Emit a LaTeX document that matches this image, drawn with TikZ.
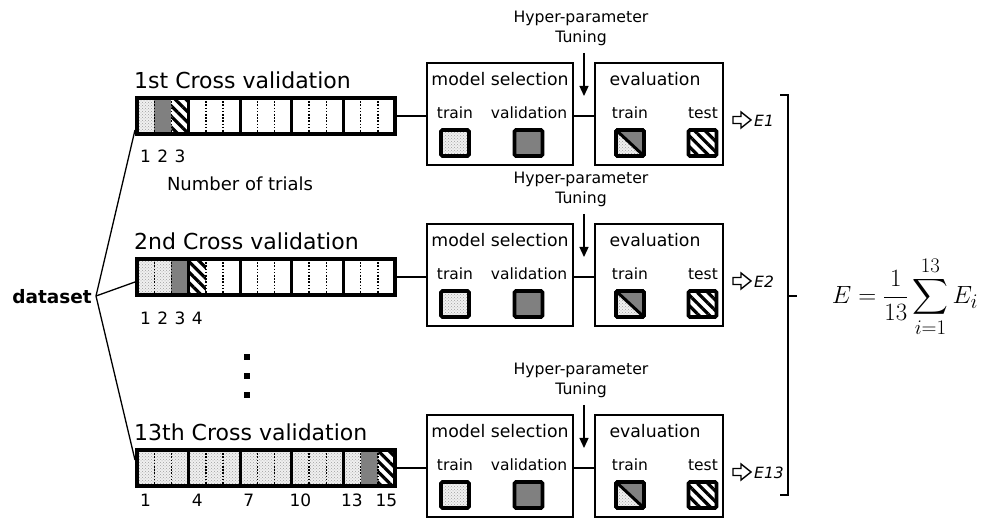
\documentclass[tikz,border=0pt]{standalone}
\usepackage{amsmath}
\usepackage{exscale}
\usepackage[no-math]{fontspec}
\setmainfont{DejaVu Sans}
\usetikzlibrary{patterns,patterns.meta,arrows.meta}
\definecolor{midgray}{RGB}{128,128,128}
\tikzset{
  stip/.style={preaction={fill=gray!12},preaction={pattern=crosshatch dots,pattern color=gray!75}},
  gfill/.style={preaction={fill=midgray}},
  hatch/.style={preaction={fill=white},preaction={pattern={Lines[angle=-45,distance=7.5pt,line width=3.2pt]},pattern color=black}},
  ttl/.style={font=\fontsize{22}{26}\selectfont,anchor=west,inner sep=0pt},
  numlbl/.style={font=\fontsize{17}{19}\selectfont,inner sep=0pt},
  boxtitle/.style={font=\fontsize{17.3}{20}\selectfont,inner sep=0pt},
  lbl/.style={font=\fontsize{15.5}{18}\selectfont,inner sep=0pt},
  hyper/.style={font=\fontsize{15.7}{20}\selectfont,inner sep=0pt,align=center},
  stagebox/.style={draw,line width=1.3pt,minimum width=#1,minimum height=102pt,inner sep=0pt,outer sep=0pt},
  sqr/.style={draw,line width=3.8pt,rounded corners=1.5pt,minimum width=28pt,minimum height=26pt,inner sep=0pt,outer sep=0pt},
  barnode/.style={minimum width=258pt,minimum height=36pt,inner sep=0pt,outer sep=0pt},
  conn/.style={line width=1.3pt},
  dotsep/.style={line width=1.4pt,dash pattern=on 1.6pt off 1.6pt},
  elbl/.style={font=\itshape\fontsize{15.5}{18}\selectfont,inner sep=0pt,anchor=west},
}
% #1 id, #2 vertical offset, #3 number of stippled cells, #4 title, #5 E label
\newcommand\CVRow[5]{%
\begin{scope}[yshift=-#2pt]
  \node[ttl] (ttl#1) at (134,80) {#4};
  \node[barnode] (bar#1) at (266,116) {};
  \foreach \i in {1,...,#3}{\path[stip] ({137+(\i-1)*17.2},98) rectangle ({137+\i*17.2},134);}
  \path[gfill] ({137+#3*17.2},98) rectangle ({137+(#3+1)*17.2},134);
  \path[hatch] ({137+(#3+1)*17.2},98) rectangle ({137+(#3+2)*17.2},134);
  \foreach \k in {1,2,4,5,7,8,10,11,13,14}{\draw[dotsep] ({137+\k*17.2},98) -- ({137+\k*17.2},134);}
  \foreach \k in {3,6,9,12}{\draw[line width=3pt] ({137+\k*17.2},98) -- ({137+\k*17.2},134);}
  \draw[line width=4pt] (bar#1.south west) rectangle (bar#1.north east);
  % stage boxes
  \node[stagebox=146pt] (ms#1) at (500,114) {};
  \node[stagebox=128pt] (ev#1) at (659,114) {};
  \node[boxtitle] (mst#1) at (500,79) {model selection};
  \node[boxtitle] (evt#1) at (655,79) {evaluation};
  \node[lbl] (mstr#1) at (455,113) {train};
  \node[lbl] (msva#1) at (529,113) {validation};
  \node[lbl] (evtr#1) at (630,113) {train};
  \node[lbl] (evte#1) at (703,113) {test};
  \node[sqr,stip] (sqa#1) at (455,143) {};
  \node[sqr,gfill] (sqb#1) at (528.5,143) {};
  \node[sqr] (sqc#1) at (630,143) {};
  \path[stip] (sqc#1.north west) -- (sqc#1.south west) -- (sqc#1.south east) -- cycle;
  \path[gfill] (sqc#1.north west) -- (sqc#1.north east) -- (sqc#1.south east) -- cycle;
  \draw[line width=3pt] (sqc#1.north west) -- (sqc#1.south east);
  \draw[line width=3.8pt,rounded corners=1.5pt] (sqc#1.south west) rectangle (sqc#1.north east);
  \node[sqr,hatch] (sqd#1) at (702.5,143) {};
  % connectors
  \draw[conn] (bar#1.east) -- (bar#1.east -| ms#1.west);
  \draw[conn] (bar#1.east -| ms#1.east) -- (bar#1.east -| ev#1.west);
  % hyper-parameter tuning
  \node[hyper] (hp#1) at (581,28) {Hyper-parameter\\Tuning};
  \coordinate (hpa#1) at (584,53);
  \coordinate (hpb#1) at (584,96);
  \draw[conn,-{Triangle[length=10pt,width=9pt]}] (hpa#1) -- (hpb#1);
  % result arrow and label
  \draw[line width=1.4pt,line join=miter] (733,116.5) -- (741,116.5) -- (741,112) -- (751,120) -- (741,128) -- (741,123.5) -- (733,123.5) -- cycle;
  \node[elbl] (e#1) at (754,120.5) {#5};
\end{scope}}

\begin{document}
\begin{tikzpicture}[x=1pt,y=-1pt]
\useasboundingbox (0,0) rectangle (997,518);
\CVRow{1}{0}{1}{1st Cross validation}{E1}
\CVRow{2}{161}{2}{2nd Cross validation}{E2}
\CVRow{3}{352}{13}{13th Cross validation}{E13}
% trial numbers
\foreach \n in {1,2,3}{\node[numlbl] at ({137+(\n-0.5)*17.2},156) {\n};}
\foreach \n in {1,2,3,4}{\node[numlbl] at ({137+(\n-0.5)*17.2},318) {\n};}
\foreach \n in {1,4,7,10,13,15}{\node[numlbl] at ({137+(\n-0.5)*17.2},500) {\n};}
\node[font=\fontsize{18}{20}\selectfont,inner sep=0pt] (nt) at (240,184) {Number of trials};
% vertical dots
\foreach \yy in {357,376,395}{\fill (244,\yy-3) rectangle (250,\yy+3);}
% dataset and branches
\node[font=\bfseries\fontsize{18.5}{20}\selectfont,anchor=east,inner sep=0pt] (ds) at (92,297) {dataset};
\coordinate (br) at (96,296);
\coordinate (j1) at (135,130);
\coordinate (j2) at (135,282);
\coordinate (j3) at (135,460);
\draw[conn] (j1) -- (br) -- (j3);
\draw[conn] (br) -- (j2);
% bracket
\coordinate (bt) at (780,95);
\coordinate (bb) at (780,495);
\coordinate (bm) at (788,296);
\draw[conn] (bt) -- (788,95) -- (788,495) -- (bb);
\draw[conn] (bm) -- (797,296);
% formula
\node[font=\fontsize{32}{38}\selectfont,inner sep=0pt] (formula) at (905,297) {$\displaystyle E=\frac{1}{13}\sum_{i=1}^{13}E_i$};
\end{tikzpicture}
\end{document}
